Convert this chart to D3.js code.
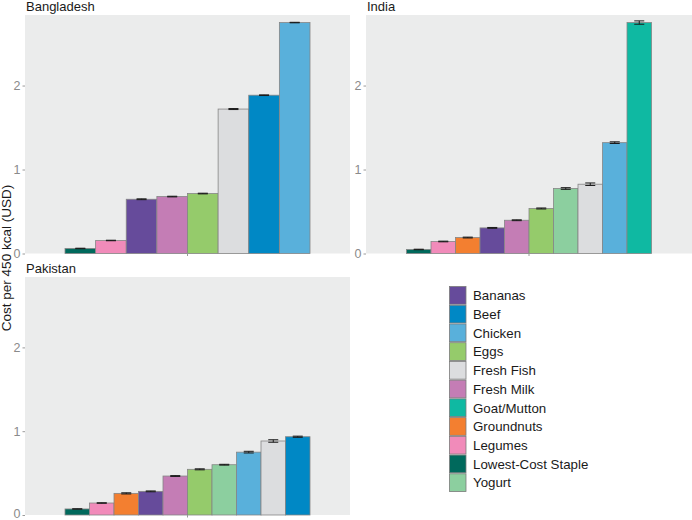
<!DOCTYPE html>
<html>
<head>
<meta charset="utf-8">
<script src="https://cdn.jsdelivr.net/npm/d3@7"></script>
<style>
  body { margin: 0; background: #fff; }
  svg { font-family: "Liberation Sans", Arial, sans-serif; }
</style>
</head>
<body>
<svg id="chart" width="692" height="520"></svg>
<script>
// categorías y colores del legend
const foods = ["Bananas", "Beef", "Chicken", "Eggs", "Fresh Fish", "Fresh Milk",
  "Goat/Mutton", "Groundnuts", "Legumes", "Lowest-Cost Staple", "Yogurt"];
const foodColors = ["#664b9b", "#0088c5", "#59b0db", "#95cb6b", "#dcdddf", "#c47db5",
  "#0fb9a2", "#f37f30", "#f18bba", "#00695c", "#8ccf9f"];

// Bangladesh
const bangladeshFoods = ["Lowest-Cost Staple", "Legumes", "Bananas", "Fresh Milk", "Eggs",
  "Fresh Fish", "Beef", "Chicken"];
const bangladeshCost = [0.06, 0.155, 0.646, 0.678, 0.714, 1.72, 1.885, 2.75];
const bangladeshErr = [0.003, 0.003, 0.005, 0.004, 0.004, 0.006, 0.004, 0.003];

// India
const indiaFoods = ["Lowest-Cost Staple", "Legumes", "Groundnuts", "Bananas", "Fresh Milk",
  "Eggs", "Yogurt", "Fresh Fish", "Chicken", "Goat/Mutton"];
const indiaCost = [0.048, 0.143, 0.19, 0.305, 0.396, 0.536, 0.774, 0.825, 1.32, 2.75];
const indiaErr = [0.003, 0.004, 0.005, 0.005, 0.005, 0.006, 0.01, 0.015, 0.01, 0.02];

// Pakistan
const pakistanFoods = ["Lowest-Cost Staple", "Legumes", "Groundnuts", "Bananas", "Fresh Milk",
  "Eggs", "Yogurt", "Chicken", "Fresh Fish", "Beef"];
const pakistanCost = [0.072, 0.143, 0.258, 0.282, 0.465, 0.545, 0.60, 0.75, 0.883, 0.934];
const pakistanErr = [0.002, 0.003, 0.007, 0.005, 0.005, 0.006, 0.005, 0.01, 0.015, 0.007];

const yTicks = [0, 1, 2];

const svg = d3.select("#chart");
const color = d3.scaleOrdinal().domain(foods).range(foodColors);

const panels = [
  { name: "Bangladesh", foods: bangladeshFoods, cost: bangladeshCost, err: bangladeshErr,
    x0: 25, x1: 350, y0: 15, y1: 253.5 },
  { name: "India", foods: indiaFoods, cost: indiaCost, err: indiaErr,
    x0: 366, x1: 692, y0: 15, y1: 253.5 },
  { name: "Pakistan", foods: pakistanFoods, cost: pakistanCost, err: pakistanErr,
    x0: 25, x1: 350, y0: 277, y1: 515 }
];

panels.forEach(p => {
  const g = svg.append("g");
  const y = d3.scaleLinear().domain([0, 2.84]).range([p.y1, p.y0]);
  const cx = (p.x0 + p.x1) / 2;
  const x = d3.scaleBand().domain(p.foods).range([cx - 122.5, cx + 122.5]).padding(0);

  // fondo del panel
  g.append("rect")
    .attr("x", p.x0).attr("y", p.y0)
    .attr("width", p.x1 - p.x0).attr("height", p.y1 - p.y0)
    .attr("fill", "#ebecec");

  // título
  g.append("text")
    .attr("x", p.x0 + 1).attr("y", p.y0 - 4)
    .attr("font-size", 13).attr("fill", "#1a1a1a")
    .text(p.name);

  const rows = p.foods.map((f, i) => ({ food: f, cost: p.cost[i], err: p.err[i] }));

  // barras
  g.selectAll("rect.bar").data(rows).enter().append("rect")
    .attr("class", "bar")
    .attr("x", d => x(d.food))
    .attr("y", d => y(d.cost))
    .attr("width", x.bandwidth())
    .attr("height", d => y(0) - y(d.cost))
    .attr("fill", d => color(d.food))
    .attr("stroke", "#858585")
    .attr("stroke-width", 0.8);

  // barras de error
  const cap = 5;
  const eb = g.selectAll("g.err").data(rows).enter().append("g")
    .attr("stroke", "#1a1a1a").attr("stroke-width", 1);
  eb.append("line")
    .attr("x1", d => x(d.food) + x.bandwidth() / 2).attr("x2", d => x(d.food) + x.bandwidth() / 2)
    .attr("y1", d => y(d.cost - d.err)).attr("y2", d => y(d.cost + d.err));
  eb.append("line")
    .attr("x1", d => x(d.food) + x.bandwidth() / 2 - cap).attr("x2", d => x(d.food) + x.bandwidth() / 2 + cap)
    .attr("y1", d => y(d.cost + d.err)).attr("y2", d => y(d.cost + d.err));
  eb.append("line")
    .attr("x1", d => x(d.food) + x.bandwidth() / 2 - cap).attr("x2", d => x(d.food) + x.bandwidth() / 2 + cap)
    .attr("y1", d => y(d.cost - d.err)).attr("y2", d => y(d.cost - d.err));

  // eje y
  const ay = g.append("g")
    .attr("transform", `translate(${p.x0},0)`)
    .call(d3.axisLeft(y).tickValues(yTicks).tickSize(2.5).tickPadding(2).tickFormat(d3.format("d")));
  ay.select(".domain").remove();
  ay.selectAll("line").attr("stroke", "#9a9a9a");
  ay.selectAll("text").attr("font-size", 12.5).attr("fill", "#8a8a8a")
    .attr("font-family", "Liberation Sans, Arial, sans-serif")
    .attr("dy", d => (d === 0 && p.y1 > 500) ? "0.18em" : "0.32em");

  // eje x (una sola categoría, sin etiqueta)
  const xc = d3.scaleBand().domain([""]).range([p.x0, p.x1]);
  const ax = g.append("g")
    .attr("transform", `translate(0,${p.y1})`)
    .call(d3.axisBottom(xc).tickSize(2.5).tickFormat(""));
  ax.select(".domain").remove();
  ax.selectAll("line").attr("stroke", "#9a9a9a");
});

// título del eje y
svg.append("text")
  .attr("transform", "translate(11,258) rotate(-90)")
  .attr("text-anchor", "middle")
  .attr("font-size", 13.5).attr("fill", "#1a1a1a")
  .text("Cost per 450 kcal (USD)");

// leyenda
const legend = svg.append("g").attr("transform", "translate(449,286)");
const step = 18.73;
const item = legend.selectAll("g").data(foods).enter().append("g")
  .attr("transform", (d, i) => `translate(0,${i * step})`);
item.append("rect")
  .attr("x", 0.5).attr("y", 0.5)
  .attr("width", 16.5).attr("height", step - 1)
  .attr("fill", d => color(d))
  .attr("stroke", "#7a7a7a").attr("stroke-width", 0.8);
item.append("text")
  .attr("x", 24).attr("y", step / 2 + 4.8)
  .attr("font-size", 13.3).attr("fill", "#1a1a1a")
  .text(d => d);
</script>
</body>
</html>
